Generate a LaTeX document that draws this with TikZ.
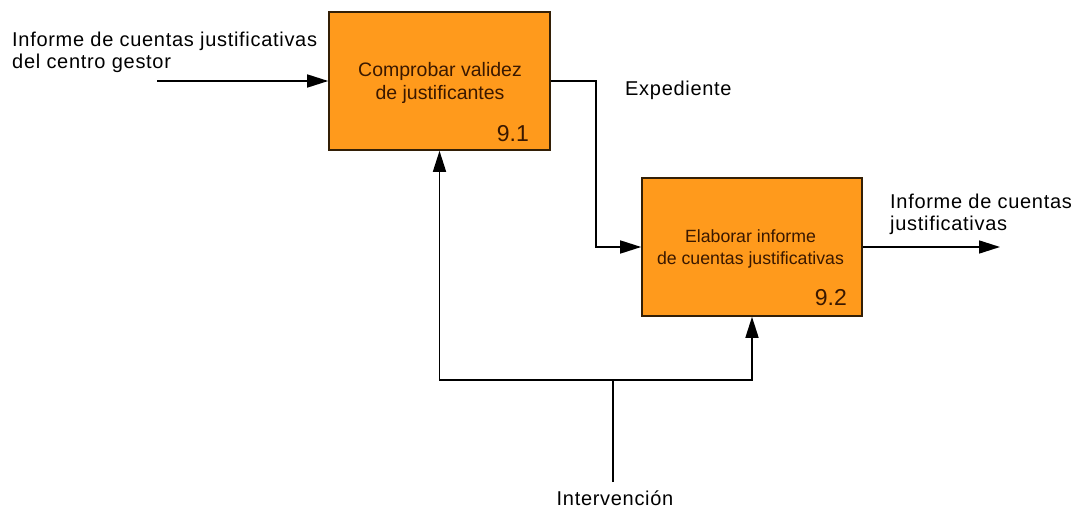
\documentclass[tikz,border=0pt]{standalone}
\usepackage{fontspec}
\setmainfont{Liberation Sans}
\newfontfamily\lsfont[LetterSpace=3.5]{Liberation Sans}
\usetikzlibrary{arrows.meta}
\definecolor{boxorange}{HTML}{FF9A1C}
\definecolor{boxtext}{HTML}{3A1800}
\begin{document}
\begin{tikzpicture}[x=1pt,y=-1pt,
  procbox/.style={draw=black!80!boxorange,line width=1.6pt,fill=boxorange,rectangle,minimum height=138pt,inner sep=0pt},
  boxlabel/.style={text=boxtext,align=center,inner sep=0pt},
  numlabel/.style={text=boxtext,font=\fontsize{23}{24}\selectfont,anchor=base east,inner sep=0pt},
  lbl/.style={font=\lsfont\fontsize{20}{22}\selectfont,align=left,inner sep=0pt},
  flow/.style={line width=1.6pt,-{Triangle[length=21pt,width=13pt]}},
  plain/.style={line width=1.6pt}]
\useasboundingbox (0,0) rectangle (1076,508);
\node[procbox,minimum width=221pt] (b1) at (439.5,81) {};
\node[procbox,minimum width=220pt] (b2) at (752,247) {};
\node[boxlabel,font=\fontsize{19.5}{23}\selectfont,anchor=base] (t1) at (440,100) {Comprobar validez\\de justificantes};
\node[boxlabel,font=\fontsize{17.7}{22}\selectfont,anchor=base] (t2) at (750.5,264) {Elaborar informe\\de cuentas justificativas};
\node[numlabel] (n1) at (529,142) {9.1};
\node[numlabel] (n2) at (847,305) {9.2};
\node[lbl,anchor=base west] (in) at (12,69) {Informe de cuentas justificativas\\del centro gestor};
\node[lbl,anchor=base west] (exp) at (625,96) {Expediente};
\node[lbl,anchor=base west] (out) at (890,230) {Informe de cuentas\\justificativas};
\node[lbl,anchor=base] (ctl) at (615,505) {Intervención};
\coordinate (inS) at (157,81);
\coordinate (outE) at (1000,247);
\coordinate (bend) at (596,81);
\coordinate (j) at (613,380);
\coordinate (jl) at (439.5,380);
\coordinate (jr) at (752,380);
\coordinate (ctlS) at (613,482);
\draw[flow] (inS) -- (b1.west);
\draw[flow] (b1.east) -- (bend) |- (b2.west);
\draw[flow] (b2.east) -- (outE);
\draw[plain] (ctlS) -- (j);
\draw[flow] (j) -- (jl) -- (b1.south);
\draw[flow] (j) -- (jr) -- (b2.south);
\end{tikzpicture}
\end{document}
